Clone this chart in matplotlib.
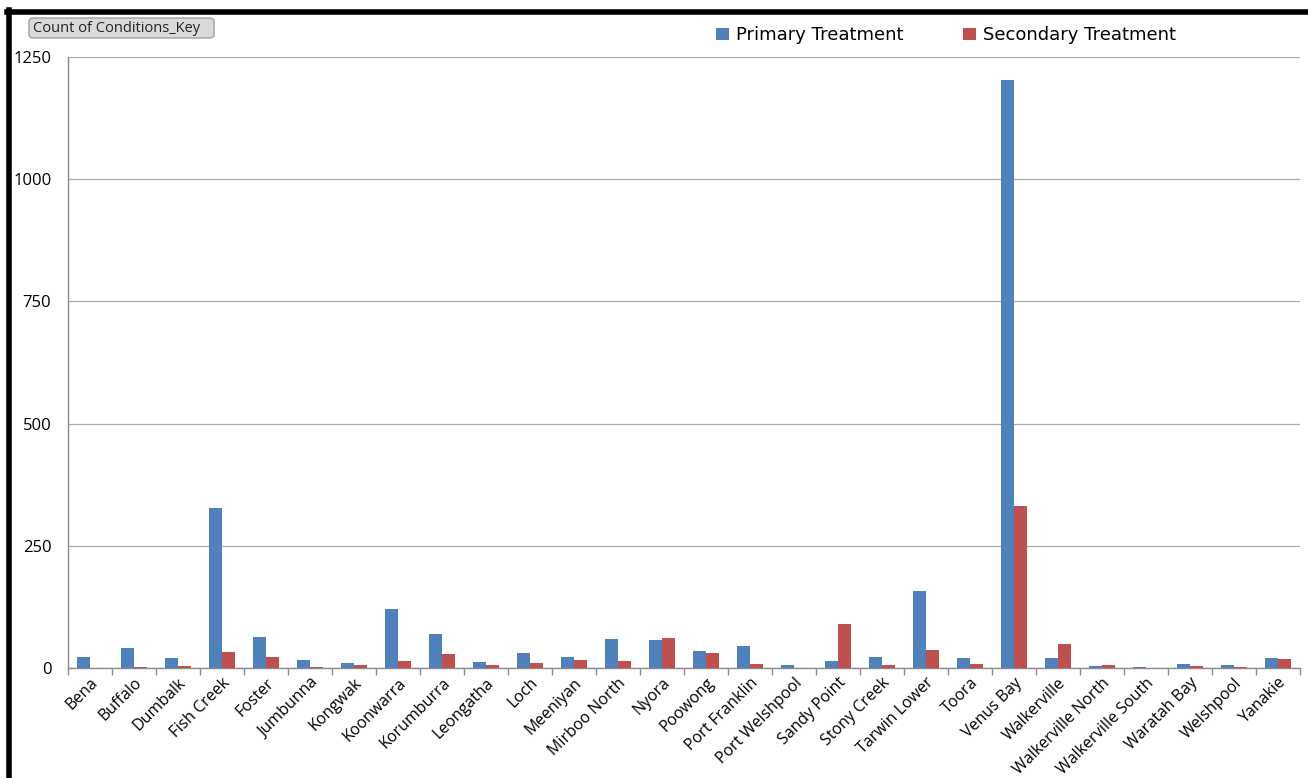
import numpy as np
import matplotlib
matplotlib.use('Agg')
import matplotlib.pyplot as plt
from matplotlib.patches import FancyBboxPatch
from matplotlib.lines import Line2D

towns = ['Bena', 'Buffalo', 'Dumbalk', 'Fish Creek', 'Foster', 'Jumbunna',
         'Kongwak', 'Koonwarra', 'Korumburra', 'Leongatha', 'Loch',
         'Meeniyan', 'Mirboo North', 'Nyora', 'Poowong', 'Port Franklin',
         'Port Welshpool', 'Sandy Point', 'Stony Creek', 'Tarwin Lower',
         'Toora', 'Venus Bay', 'Walkerville', 'Walkerville North',
         'Walkerville South', 'Waratah Bay', 'Welshpool', 'Yanakie']
primary = [22, 40, 20, 327, 64, 16, 10, 120, 70, 12, 30, 22, 60, 58, 35,
           46, 6, 14, 23, 157, 20, 1202, 20, 5, 3, 9, 7, 20]
secondary = [0, 3, 5, 33, 22, 3, 7, 14, 29, 6, 11, 16, 14, 62, 31, 9, 0,
             91, 6, 37, 9, 331, 49, 7, 0, 5, 3, 19]
yticks = [0, 250, 500, 750, 1000, 1250]

blue = '#4F81BD'
red = '#C0504D'

fig = plt.figure(figsize=(13.08, 7.78), dpi=100)
ax = fig.add_axes([68 / 1308, 1 - 668 / 778, 1232 / 1308, 611 / 778])

x = np.arange(len(towns))
w = 0.29
ax.bar(x - w / 2, primary, w, color=blue, label='Primary Treatment', zorder=3)
ax.bar(x + w / 2, secondary, w, color=red, label='Secondary Treatment', zorder=3)

ax.set_xlim(-0.5, len(towns) - 0.5)
ax.set_ylim(0, 1250)
ax.set_yticks(yticks)
ax.set_yticklabels([str(v) for v in yticks], fontsize=12, family='Open Sans')
ax.yaxis.grid(True, color='#ababab', linewidth=0.9, zorder=0)
ax.tick_params(axis='y', length=0, pad=12)

ax.set_xticks(x)
ax.set_xticklabels(towns, rotation=45, ha='right', rotation_mode='anchor',
                   fontsize=11.5, family='Open Sans')
ax.set_xticks(np.arange(len(towns) + 1) - 0.5, minor=True)
ax.tick_params(axis='x', which='major', length=0, pad=5)
ax.tick_params(axis='x', which='minor', length=5, color='#8c8c8c', width=1)

for s in ['top', 'right']:
    ax.spines[s].set_visible(False)
for s in ['left', 'bottom']:
    ax.spines[s].set_color('#8c8c8c')
    ax.spines[s].set_linewidth(1)

ax.legend(loc='upper left', bbox_to_anchor=(700 / 1308, 1 - 10 / 778),
          bbox_transform=fig.transFigure, ncol=2, frameon=False,
          fontsize=13, handlelength=0.7, handleheight=0.7,
          columnspacing=3.3, handletextpad=0.4)

# field button
btn = FancyBboxPatch((29 / 1308, 1 - 38 / 778), 185 / 1308, 20 / 778,
                     boxstyle='round,pad=0,rounding_size=0.004',
                     transform=fig.transFigure, facecolor='#dadada',
                     edgecolor='#a0a0a0', linewidth=1)
fig.patches.append(btn)
fig.text(33 / 1308, 1 - 28 / 778, 'Count of Conditions_Key', fontsize=10.5,
         family='Open Sans', va='center', ha='left', color='#222222')

# black frame from the screenshot
fig.add_artist(Line2D([9 / 1308, 9 / 1308], [0, 1 - 10 / 778],
                      transform=fig.transFigure, color='black', linewidth=4))
fig.add_artist(Line2D([7 / 1308, 1], [1 - 12 / 778, 1 - 12 / 778],
                      transform=fig.transFigure, color='black', linewidth=4))

fig.savefig('out.png', dpi=100)
